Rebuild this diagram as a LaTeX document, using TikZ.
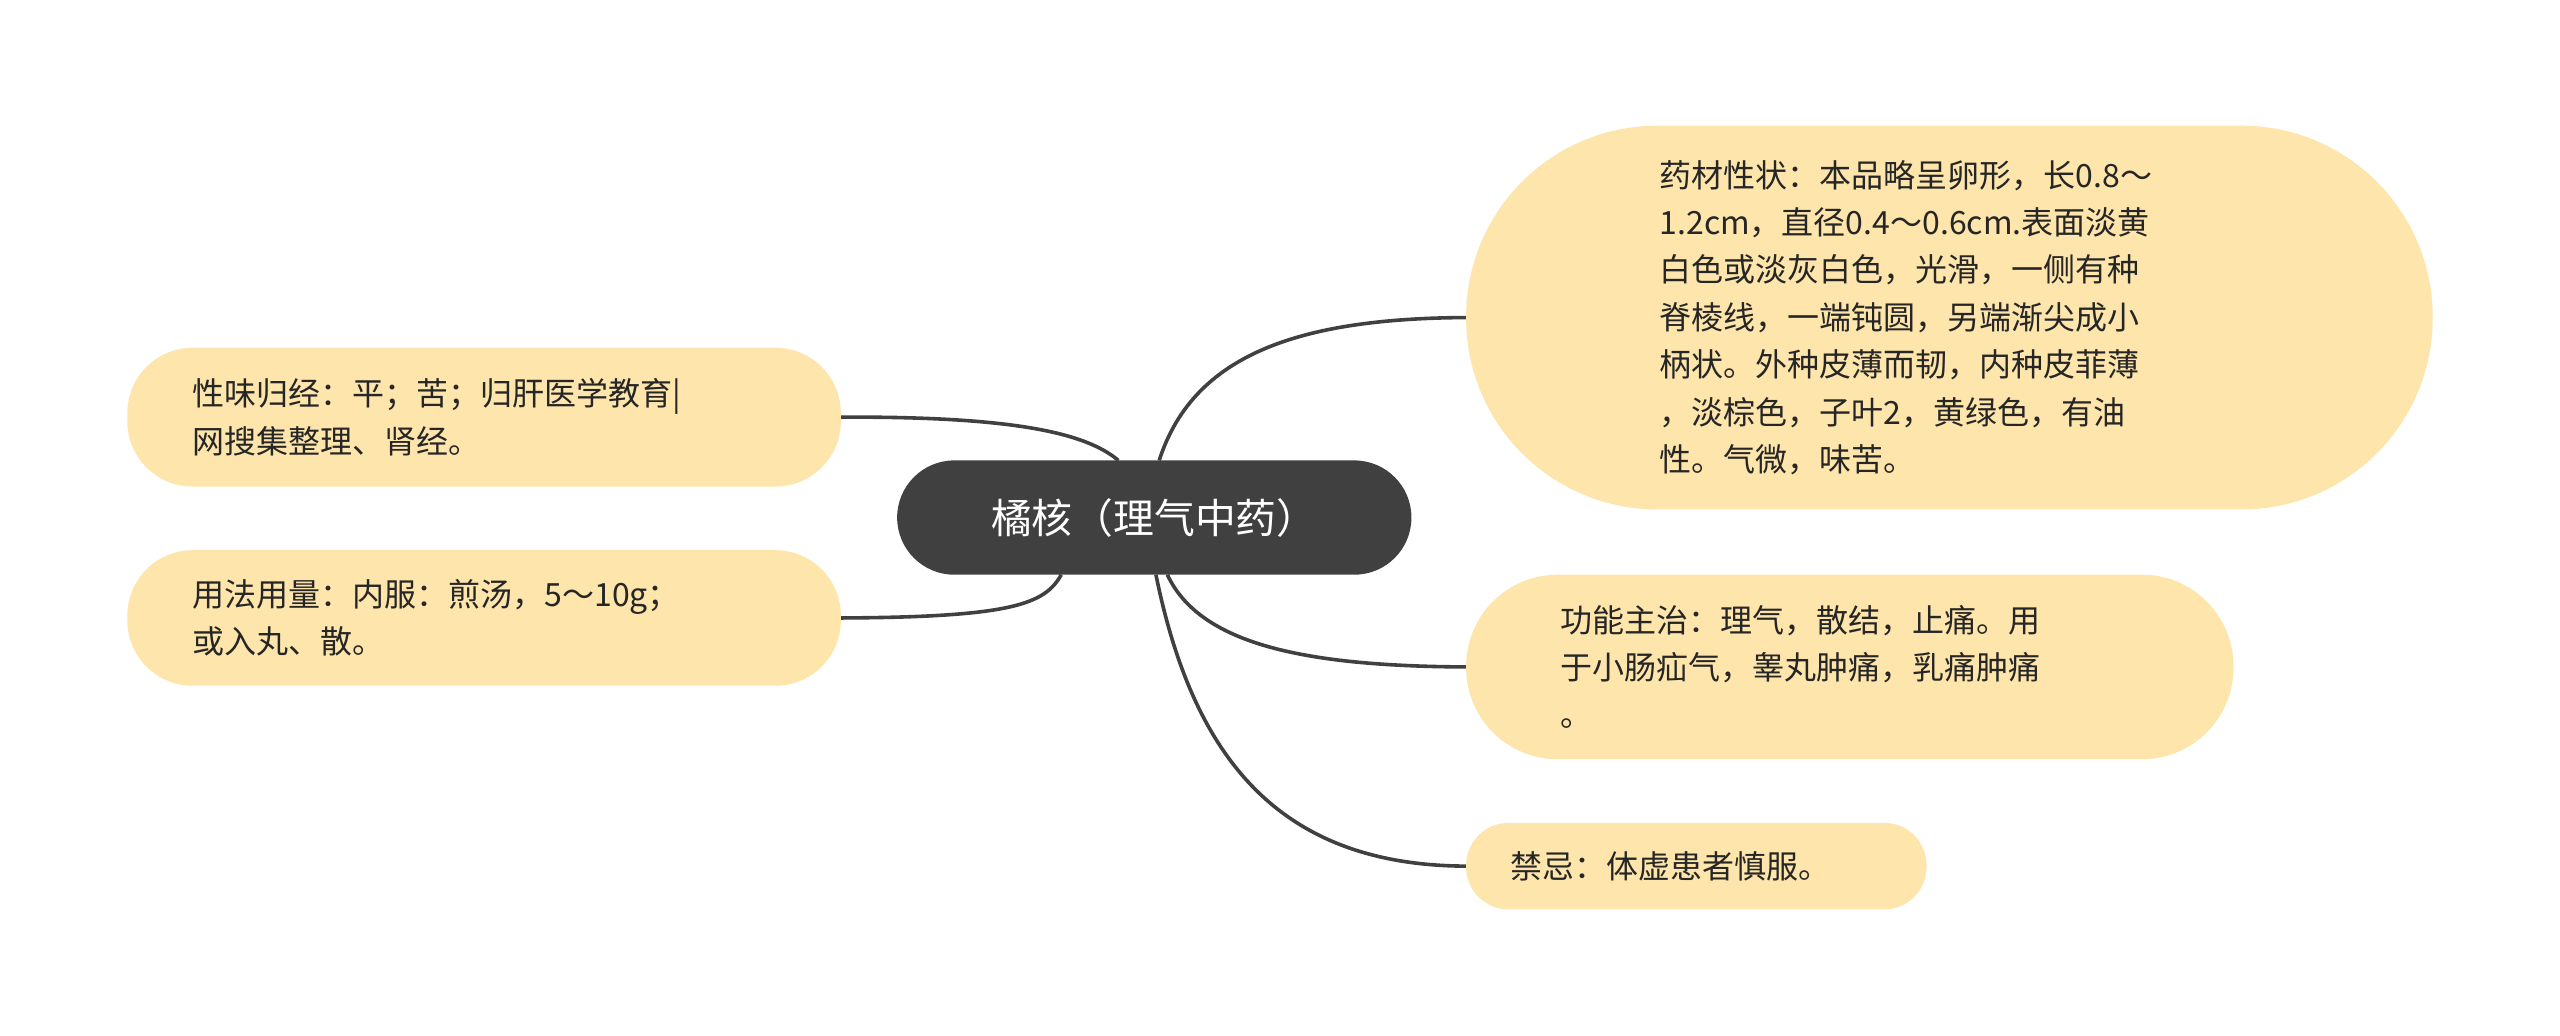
\documentclass[tikz,border=0pt]{standalone}
\usepackage{fontspec}
\newfontfamily\cjk{Noto Sans CJK SC}
\begin{document}
\begin{tikzpicture}[x=1pt,y=-1pt,
  leaf/.style={fill=leafc,rounded corners=40pt,inner sep=0pt,font=\cjk\fontsize{19.6pt}{29pt}\selectfont,text=black!85,align=left},
  conn/.style={draw=black!75,line width=2.2pt}]
\definecolor{leafc}{HTML}{FDE5AB}
\useasboundingbox (0,0) rectangle (1568,634);
\fill[white] (0,0) rectangle (1568,634);
% center
\node[fill=black!75,rounded corners=35pt,minimum width=315pt,minimum height=70pt,text=white,font=\cjk\fontsize{25pt}{30pt}\selectfont] (c) at (707,317) {橘核（理气中药）};
% leaves
\node[leaf,minimum width=437pt,minimum height=85pt,text width=357pt] (l1) at (296.5,255.5) {性味归经：平；苦；归肝医学教育|\\网搜集整理、肾经。};
\node[leaf,minimum width=437pt,minimum height=83pt,text width=357pt] (l2) at (296.5,378.5) {用法用量：内服：煎汤，5～10g；\\或入丸、散。};
\node[leaf,rounded corners=117pt,minimum width=592pt,minimum height=235pt,text width=355pt] (r1) at (1194,194.5) {药材性状：本品略呈卵形，长0.8～\\1.2cm，直径0.4～0.6cm.表面淡黄\\白色或淡灰白色，光滑，一侧有种\\脊棱线，一端钝圆，另端渐尖成小\\柄状。外种皮薄而韧，内种皮菲薄\\，淡棕色，子叶2，黄绿色，有油\\性。气微，味苦。};
\node[leaf,rounded corners=56pt,minimum width=470pt,minimum height=113pt,text width=355pt] (r2) at (1133,408.5) {功能主治：理气，散结，止痛。用\\于小肠疝气，睾丸肿痛，乳痛肿痛\\。};
\node[leaf,rounded corners=26pt,minimum width=282pt,minimum height=53pt,text width=228pt] (r3) at (1039,530.5) {禁忌：体虚患者慎服。};
% connectors
\coordinate (a1) at (685,282);
\coordinate (a2) at (650,352);
\coordinate (b1) at (710,282);
\coordinate (b2) at (715,352);
\coordinate (b3) at (708,352);
\draw[conn] (l1.east) .. controls (620,255) and (665,265) .. (a1);
\draw[conn] (l2.east) .. controls (620,378) and (640,370) .. (a2);
\draw[conn] (b1) .. controls (730,220) and (790,195) .. (r1.west);
\draw[conn] (b2) .. controls (735,395) and (800,408) .. (r2.west);
\draw[conn] (b3) .. controls (730,460) and (780,530) .. (r3.west);
\end{tikzpicture}
\end{document}
